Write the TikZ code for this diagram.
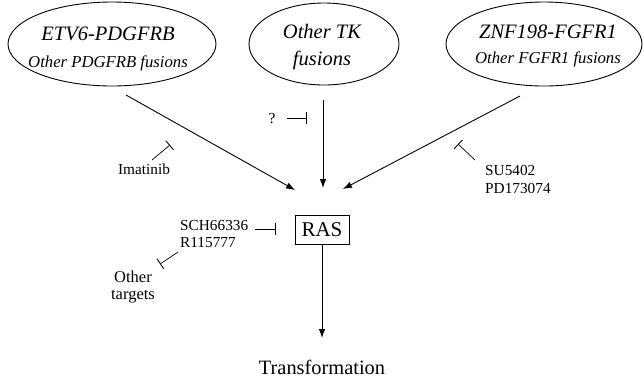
\documentclass[tikz,border=0pt]{standalone}
\usepackage{fontspec}
\setmainfont{Liberation Serif}
\usetikzlibrary{shapes.geometric,arrows.meta}

\tikzset{
  fusion/.style={draw, ellipse, line width=0.9pt, inner sep=0pt},
  big/.style={font=\fontsize{20.5}{24}\selectfont\itshape, anchor=base, inner sep=0pt},
  small/.style={font=\fontsize{16.7}{20}\selectfont\itshape, anchor=base, inner sep=0pt},
  lbl/.style={font=\fontsize{15.3}{18}\selectfont, anchor=base west, inner sep=0pt},
  signal/.style={line width=0.9pt, -{Latex[length=9pt,width=6.5pt]}},
  block/.style={line width=0.7pt, -{Bar[width=12pt,line width=0.9pt]}},
}

\begin{document}
\begin{tikzpicture}[x=1pt, y=-1pt]
\useasboundingbox (0,0) rectangle (644,381);

% tyrosine kinase fusions
\node[fusion, minimum width=208pt, minimum height=84pt] (e1) at (112,44) {};
\node[big]   (e1a) at (108,40) {ETV6-PDGFRB};
\node[small] (e1b) at (108,67) {Other PDGFRB fusions};

\node[fusion, minimum width=150pt, minimum height=82pt] (e2) at (324,44) {};
\node[big]   (e2a) at (322,38) {Other TK};
\node[big]   (e2b) at (322,65) {fusions};

\node[fusion, minimum width=196pt, minimum height=84pt] (e3) at (544,44) {};
\node[big]   (e3a) at (548,38) {ZNF198-FGFR1};
\node[small] (e3b) at (548,63) {Other FGFR1 fusions};

% RAS and its output
\node[draw, line width=0.8pt, minimum width=54pt, minimum height=29pt, inner sep=0pt,
      font=\fontsize{21}{24}\selectfont] (ras) at (322,230) {RAS};
\node[font=\fontsize{20.4}{24}\selectfont, anchor=base, inner sep=0pt] (tr) at (322,374) {Transformation};

% arrow ends
\coordinate (a1s) at (126,95);
\coordinate (a1e) at (295,190);
\coordinate (a2s) at (323,100);
\coordinate (a2e) at (323,188);
\coordinate (a3s) at (520,96);
\coordinate (a3e) at (343,189);
\coordinate (a4e) at (322,338);

\draw[signal] (a1s) -- (a1e);
\draw[signal] (a2s) -- (a2e);
\draw[signal] (a3s) -- (a3e);
\draw[signal] (ras.south) -- (a4e);

% inhibitors
\node[lbl, anchor=base] (q) at (272,123) {?};
\coordinate (qs) at (287,118);
\coordinate (qe) at (307,118);
\draw[block] (qs) -- (qe);

\node[lbl, anchor=base] (ima) at (144,174) {Imatinib};
\coordinate (is) at (152,160);
\coordinate (ie) at (170,145);
\draw[block] (is) -- (ie);

\node[lbl] (su) at (485,175) {SU5402};
\node[lbl] (pd) at (485,193) {PD173074};
\coordinate (ss) at (475,160);
\coordinate (se) at (458,144);
\draw[block] (ss) -- (se);

\node[lbl] (sch) at (180,230) {SCH66336};
\node[lbl] (r11) at (180,247) {R115777};
\coordinate (cs) at (255,229);
\coordinate (ce) at (276,229);
\draw[block] (cs) -- (ce);

\coordinate (os) at (178,252);
\coordinate (oe) at (160,264);
\draw[block] (os) -- (oe);
\node[font=\fontsize{16.5}{19}\selectfont, anchor=base, inner sep=0pt] (ot1) at (133,282) {Other};
\node[font=\fontsize{16.5}{19}\selectfont, anchor=base, inner sep=0pt] (ot2) at (133,299) {targets};
\end{tikzpicture}
\end{document}
